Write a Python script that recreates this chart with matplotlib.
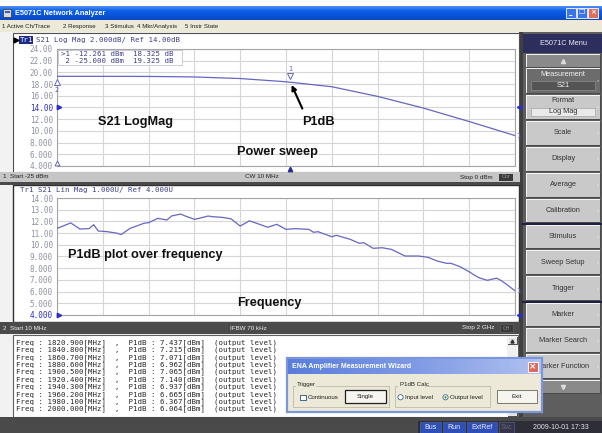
import numpy as np
import matplotlib.pyplot as plt
from matplotlib.patches import Rectangle, Circle
from matplotlib.colors import LinearSegmentedColormap
from matplotlib import transforms

W, H = 602, 433

# --- Channel 1: power sweep at CW 10 MHz, S21 Log Mag ---
pin_dbm = [-25.0, -22.5, -20.0, -17.5, -15.0, -12.5, -10.0, -7.5, -5.0, -2.5, 0.0]
gain_db = [19.33, 19.33, 19.31, 19.22, 18.95, 18.40, 17.55, 15.90, 13.90, 11.60, 9.20]

# marker readout
mk_num = [1, 2]
mk_pow = [-12.261, -25.000]
mk_val = [18.325, 19.325]

# --- Channel 2: P1dB (output level) over frequency ---
freq_mhz = [10.0, 69.7, 109.5, 149.3, 169.2, 189.1, 228.9, 268.7, 288.6, 328.4,
            348.3, 388.1, 408.0, 447.8, 487.6, 507.5, 547.3, 567.2, 607.0, 626.9,
            666.7, 686.6, 726.4, 766.2, 806.0, 845.8, 885.6, 925.4, 965.2, 1005.0,
            1044.8, 1104.5, 1124.4, 1144.3, 1204.0, 1223.9, 1283.6, 1323.4, 1343.3, 1383.1,
            1422.9, 1462.7, 1522.4, 1582.1, 1621.9, 1661.7, 1701.5, 1721.4, 1761.2, 1801.0,
            1820.9, 1840.8, 1860.7, 1880.6, 1900.5, 1920.4, 1940.3, 1960.2, 1980.1, 2000.0]
p1db_dbm = [11.40, 11.87, 11.35, 11.38, 11.72, 11.18, 11.12, 11.00, 10.88, 11.41,
            11.55, 11.84, 11.89, 12.26, 12.12, 12.46, 12.63, 12.46, 12.18, 12.26,
            12.46, 12.40, 12.35, 12.22, 11.60, 12.05, 11.78, 11.50, 11.75, 11.32,
            11.38, 11.32, 11.07, 11.12, 10.69, 10.81, 10.47, 10.13, 10.18, 9.70,
            9.75, 9.61, 9.04, 9.04, 8.93, 8.62, 8.42, 8.42, 8.13, 7.70,
            7.437, 7.215, 7.071, 6.962, 7.065, 7.140, 6.937, 6.665, 6.367, 6.064]

ch1_yticks = [24, 22, 20, 18, 16, 14, 12, 10, 8, 6, 4]
ch2_yticks = [14, 13, 12, 11, 10, 9, 8, 7, 6, 5, 4]
ch1_ref = 14.0
ch2_ref = 4.0

menu_items = ['1 Active Ch/Trace', '2 Response', '3 Stimulus', '4 Mkr/Analysis', '5 Instr State']
menu_x = [2, 63, 105, 137, 185]

softkeys = ['Measurement', 'Format', 'Scale', 'Display', 'Average', 'Calibration',
            'Stimulus', 'Sweep Setup', 'Trigger', 'Marker', 'Marker Search', 'Marker Function']
softkey_sub = ['S21', 'Log Mag', '', '', '', '', '', '', '', '', '', '']
key_rows = [(68, 93), (95, 119), (121, 145), (147, 171), (173, 197), (199, 222),
            (225, 248), (250, 274), (276, 300), (303, 326), (328, 352), (354, 378)]

status_items = ['Bus', 'Run', 'ExtRef', 'Svc']
status_x = [(420, 441), (443, 465), (467, 497), (499, 514)]

TRACE = '#6466c4'
GRID = '#d6d6d6'
TICK = '#8d91a3'
REF = '#2b2fc4'
SANS = 'Liberation Sans'
MONO = 'DejaVu Sans Mono'

fig = plt.figure(figsize=(W / 100, H / 100), dpi=100)


def px_axes(x0, y0, x1, y1):
    return fig.add_axes([x0 / W, 1 - y1 / H, (x1 - x0) / W, (y1 - y0) / H])


def pixel_space(ax):
    ax.set_xlim(0, W)
    ax.set_ylim(H, 0)
    ax.set_autoscale_on(False)
    ax.axis('off')


def rect(ax, x0, y0, x1, y1, fc, ec='none', lw=0.7, z=1):
    ax.add_patch(Rectangle((x0, y0), x1 - x0, y1 - y0, facecolor=fc,
                           edgecolor=ec, linewidth=lw, zorder=z))


def bevel(ax, x0, y0, x1, y1, fc, light='#f6f6f6', dark='#4a4a4a', z=1):
    rect(ax, x0, y0, x1, y1, fc, z=z)
    ax.plot([x0, x0, x1], [y1, y0, y0], color=light, lw=0.7, zorder=z + 0.1)
    ax.plot([x0, x1, x1], [y1, y1, y0], color=dark, lw=0.7, zorder=z + 0.1)


def txt(ax, x, y, s, size=5.0, color='black', ha='left', va='center', family=SANS, z=3, **kw):
    ax.text(x, y, s, fontsize=size, color=color, ha=ha, va=va, family=family, zorder=z, **kw)


def fmt(v):
    return f'{v:.2f}' if v >= 10 else f'{v:.3f}'


# ---------------- background canvas ----------------
bg = px_axes(0, 0, W, H)
pixel_space(bg)
rect(bg, 0, 0, W, H, 'white', z=0)

# title bar
xp = LinearSegmentedColormap.from_list('xp', ['#4d8ff4', '#0b5ee6', '#0754d8', '#0a48c0'])
bg.imshow(np.linspace(0, 1, 16)[:, None], extent=(0, W, 20, 6), cmap=xp, aspect='auto', zorder=1)
rect(bg, 3, 9, 11, 17, '#d8d8d8', ec='#303030', lw=0.5, z=2)
rect(bg, 4.5, 10.5, 9.5, 13, '#3060c0', z=2.1)
txt(bg, 15, 13.2, 'E5071C Network Analyzer', size=5.3, color='white', weight='bold')
for i, (x0, fc, sym) in enumerate([(566, '#3a74ea', '_'), (577, '#3a74ea', '❐'), (588, '#dc7060', '×')]):
    rect(bg, x0, 8, x0 + 10, 18, fc, ec='white', lw=0.6, z=2)
    txt(bg, x0 + 5, 12.5, sym, size=5, color='white', ha='center', family='DejaVu Sans', weight='bold')

# menu bar
rect(bg, 0, 20, W, 32, '#ece9d8', z=1)
for s, x in zip(menu_items, menu_x):
    txt(bg, x, 26.5, s, size=4.4, color='#202020')

# left panel
rect(bg, 0, 32, 520, 421, '#f2f2f2', z=1)
rect(bg, 519, 32, 523, 421, '#404040', z=1)

# channel windows
rect(bg, 13, 33, 519, 172, 'white', ec='#505050', lw=0.8, z=1.2)
rect(bg, 13, 185, 519, 322, 'white', ec='#303030', lw=1.0, z=1.2)

# channel 1 header
bg.plot([15.5], [40], marker='>', ms=3.5, color='black', zorder=3)
rect(bg, 19, 36, 33, 44, '#1c2a8a', z=2)
txt(bg, 20, 40, 'Tr1', size=5.3, color='white', family=MONO)
txt(bg, 36, 40, 'S21 Log Mag 2.000dB/ Ref 14.00dB', size=5.3, color='#3b3f8c', family=MONO)

# channel 1 status bar
rect(bg, 0, 172, 520, 182, '#c6c6c6', z=1.5)
rect(bg, 0, 182, 520, 185, '#4a4a4a', z=1.5)
txt(bg, 3, 177, '1  Start -25 dBm', size=4.5, color='#202020')
txt(bg, 245, 177, 'CW 10 MHz', size=4.5, color='#202020')
txt(bg, 460, 177, 'Stop 0 dBm', size=4.5, color='#202020')
rect(bg, 499, 173.5, 513, 180.5, '#3a3a3a', z=2)
txt(bg, 506, 177, 'Cor', size=3.8, color='#9a9a9a', ha='center')

# channel 2 header
txt(bg, 20, 190, 'Tr1 S21 Lin Mag 1.000U/ Ref 4.000U', size=5.3, color='#3b3f8c', family=MONO)

# channel 2 status bar
rect(bg, 0, 322, 520, 334, '#4b4b4b', z=1.5)
txt(bg, 3, 328, '2  Start 10 MHz', size=4.5, color='#f0f0f0')
txt(bg, 230, 328, 'IFBW 70 kHz', size=4.5, color='#f0f0f0')
txt(bg, 462, 328, 'Stop 2 GHz', size=4.5, color='#f0f0f0')
rect(bg, 500, 324, 513, 332, '#3a3a3a', ec='#666666', lw=0.4, z=2)
txt(bg, 506.5, 328, 'Off', size=3.8, color='#8a8a8a', ha='center')

# result text box
rect(bg, 13, 335, 518, 417, 'white', ec='#606060', lw=0.8, z=1.5)
rect(bg, 507, 336, 517, 416, '#f0f0f0', z=1.6)
bevel(bg, 507.5, 336.5, 516.5, 344, '#e4e4e4', z=1.7)
bg.plot([512], [340.5], marker='^', ms=2.2, color='#303030', zorder=2)
bevel(bg, 507.5, 408.5, 516.5, 416, '#e4e4e4', z=1.7)
for i, (f, p) in enumerate(zip(freq_mhz[-10:], p1db_dbm[-10:])):
    line = f'Freq : {f:8.3f}[MHz]  ,  P1dB : {p:.3f}[dBm]  (output level)'
    txt(bg, 16, 342.5 + i * 7.4, line, size=5.3, color='#262626', family=MONO, z=2)

# bottom strip and status bar
rect(bg, 0, 417, W, H, '#4a4a4a', z=1.5)
rect(bg, 418, 421, W, H, '#2e2e38', z=1.6)
for s, (x0, x1) in zip(status_items, status_x):
    dim = s == 'Svc'
    rect(bg, x0, 422, x1, H, '#34344a' if dim else '#2f4fb8', ec='#5a6aa0', lw=0.4, z=1.7)
    txt(bg, (x0 + x1) / 2, 427.5, s, size=5, color='#6a6a7a' if dim else '#e8ecff', ha='center', z=2)
txt(bg, 561, 427.5, '2009-10-01 17:33', size=5, color='#e6e6e6', ha='center', z=2)

# softkey panel
rect(bg, 523, 32, W, 421, '#5e5e5e', z=1)
rect(bg, 523, 34, W, 53, '#2c2e5e', z=1.2)
txt(bg, 563, 43.5, 'E5071C Menu', size=5.3, color='#e8e8f4', ha='center')
bevel(bg, 526, 54, 600, 67, '#8a8a8a', z=1.3)
bg.plot([563], [60.5], marker='^', ms=3, color='#dcdcdc', zorder=2)
for i, (name, sub, (y0, y1)) in enumerate(zip(softkeys, softkey_sub, key_rows)):
    selected = i == 0
    bevel(bg, 526, y0, 600, y1, '#6c6c6c' if selected else '#c9c9c9', z=1.3)
    col = '#f2f2f2' if selected else '#333333'
    if sub:
        txt(bg, 563, y0 + 6, name, size=5.3, color=col, ha='center')
        rect(bg, 531, y0 + 12.5, 595, y1 - 3, '#545454' if selected else '#e9e9e9',
             ec='#9a9a9a', lw=0.4, z=1.5)
        txt(bg, 563, (y0 + 12.5 + y1 - 3) / 2, sub, size=5.3, color=col, ha='center')
    else:
        txt(bg, 563, (y0 + y1) / 2, name, size=5.3, color=col, ha='center')
    txt(bg, 598, (y0 + y1) / 2, '›', size=4.5, color='#f4f4f4', ha='center')
for ysep in [223.5, 301.5]:
    bg.plot([523, W], [ysep, ysep], color='#1e2040', lw=1.6, zorder=1.4)
bevel(bg, 526, 380, 600, 393, '#8a8a8a', z=1.3)
bg.plot([563], [386.5], marker='v', ms=3, color='#dcdcdc', zorder=2)


# ---------------- measurement traces ----------------
def style_chart(ax, yticks, ref):
    ax.set_yticks(yticks)
    ax.set_yticklabels([fmt(v) for v in yticks])
    ax.tick_params(length=0, pad=2.9, labelsize=5.5, labelcolor=TICK)
    for lab, v in zip(ax.get_yticklabels(), yticks):
        lab.set_fontfamily(MONO)
        if v == ref:
            lab.set_color(REF)
    ax.set_xticklabels([])
    ax.grid(color=GRID, lw=0.8)
    for s in ax.spines.values():
        s.set_color('#a4a4a4')
        s.set_linewidth(0.8)


def edge_marker(ax, xa, yv, m, dx, dy, **kw):
    tr = transforms.offset_copy(transforms.blended_transform_factory(ax.transAxes, ax.transData),
                                fig=fig, x=dx, y=dy, units='points')
    ax.plot([xa], [yv], marker=m, transform=tr, clip_on=False, linestyle='none', zorder=5, **kw)


ax1 = px_axes(57, 49, 515, 166)
ax1.plot(pin_dbm, gain_db, color=TRACE, lw=0.9, zorder=3)
ax1.set_xlim(-25, 0)
ax1.set_ylim(4, 24)
ax1.set_xticks(np.linspace(-25, 0, 11))
style_chart(ax1, ch1_yticks, ch1_ref)
edge_marker(ax1, 0, ch1_ref, '>', 1.6, 0, ms=3.2, color=REF)
edge_marker(ax1, 1, ch1_ref, '<', 2.8, 0, ms=3.2, color=REF)
ax1.annotate('1', xy=(pin_dbm[-1], gain_db[-1]), xytext=(1.2, 0), textcoords='offset points',
             va='center', fontsize=5, color=TRACE, annotation_clip=False)

# marker readout
ax1.add_patch(Rectangle((0.003, 0.865), 0.27, 0.128, transform=ax1.transAxes, facecolor='white',
                        edgecolor='#b8b8c8', lw=0.5, zorder=4))
for i, (n, p, v) in enumerate(zip(mk_num, mk_pow, mk_val)):
    lead = '>' if i == 0 else ' '
    ax1.text(0.008, 0.958 - i * 0.064, f'{lead}{n} {p:.3f} dBm  {v:.3f} dB', transform=ax1.transAxes,
             fontsize=5.3, family=MONO, color='#3b3f8c', va='center', zorder=5)

# marker symbols on the trace
up = transforms.offset_copy(ax1.transData, fig=fig, y=4.2, units='points')
ax1.plot([mk_pow[0]], [mk_val[0]], marker='v', ms=4, mfc='white', mec=TRACE, mew=0.7,
         transform=up, zorder=5)
ax1.annotate(str(mk_num[0]), xy=(mk_pow[0], mk_val[0]), xytext=(0, 9.5), textcoords='offset points',
             ha='center', va='center', fontsize=4.8, color=TRACE, zorder=5)
dn = transforms.offset_copy(ax1.transData, fig=fig, y=-4.2, units='points')
ax1.plot([mk_pow[1]], [mk_val[1]], marker='^', ms=4, mfc='white', mec=TRACE, mew=0.7,
         transform=dn, clip_on=False, zorder=5)
ax1.annotate(str(mk_num[1]), xy=(mk_pow[1], mk_val[1]), xytext=(0, -9.5), textcoords='offset points',
             ha='center', va='center', fontsize=4.8, color=TRACE, annotation_clip=False, zorder=5)

# stimulus markers on the bottom edge
bot_in = transforms.offset_copy(ax1.transData, fig=fig, y=2.2, units='points')
ax1.plot([mk_pow[1]], [4], marker='^', ms=3.5, mfc='white', mec=TRACE, mew=0.7, transform=bot_in,
         clip_on=False, zorder=5)
bot_out = transforms.offset_copy(ax1.transData, fig=fig, y=-2.4, units='points')
ax1.plot([mk_pow[0]], [4], marker='^', ms=3.2, color='#2a2e9a', transform=bot_out,
         clip_on=False, zorder=5)

# arrow pointing to P1dB
ax1.annotate('', xy=(mk_pow[0], mk_val[0]), xytext=(8.6, -19), textcoords='offset points',
             arrowprops=dict(arrowstyle='-|>', color='black', lw=1.5, mutation_scale=7,
                             shrinkA=0, shrinkB=2.2), zorder=6)

ax2 = px_axes(57, 198, 515, 315)
ax2.plot(freq_mhz, p1db_dbm, color=TRACE, lw=0.9, zorder=3)
ax2.set_xlim(10, 2000)
ax2.set_ylim(4, 14)
ax2.set_xticks(np.linspace(10, 2000, 11))
style_chart(ax2, ch2_yticks, ch2_ref)
edge_marker(ax2, 0, ch2_ref, '>', 1.6, 0, ms=3.2, color=REF)
edge_marker(ax2, 1, ch2_ref, '<', 2.8, 0, ms=3.2, color=REF)
ax2.annotate('1', xy=(freq_mhz[-1], p1db_dbm[-1]), xytext=(1.2, 0), textcoords='offset points',
             va='center', fontsize=5, color=TRACE, annotation_clip=False)

# ---------------- overlay: labels and wizard dialog ----------------
ov = px_axes(0, 0, W, H)
pixel_space(ov)
ov.patch.set_alpha(0)

big = dict(size=9.2, color='#111111', weight='bold', z=6)
txt(ov, 98, 122, 'S21 LogMag', **big)
txt(ov, 302, 122, 'P1dB', **big)
txt(ov, 237, 152, 'Power sweep', **big)
txt(ov, 68, 255, 'P1dB plot over frequency', **big)
txt(ov, 237, 303, 'Frequency', **big)

# ENA Amplifier Measurement Wizard
rect(ov, 287, 358, 542, 412, '#ece9d8', ec='#7b96dc', lw=1.6, z=7)
dlg = LinearSegmentedColormap.from_list('dlg', ['#5a7edc', '#7f9ae4', '#b0c0f0'])
ov.imshow(np.linspace(0, 1, 64)[None, :], extent=(288, 541, 374, 359), cmap=dlg, aspect='auto', zorder=7.2)
txt(ov, 292, 366.5, 'ENA Amplifier Measurement Wizard', size=5, color='white', weight='bold', z=8)
rect(ov, 528, 362, 538, 372, '#dd6a5c', ec='white', lw=0.7, z=8)
txt(ov, 533, 367, '×', size=6.5, color='white', ha='center', family='DejaVu Sans', weight='bold', z=9)

rect(ov, 293, 386, 389, 407, 'none', ec='#bdbaa8', lw=0.6, z=8)
rect(ov, 296, 381.5, 316, 388, '#ece9d8', z=8.1)
txt(ov, 297, 384.8, 'Trigger', size=4.4, color='#202020', z=9)
rect(ov, 300, 394.5, 305.5, 400, 'white', ec='#1c5180', lw=0.6, z=8.5)
txt(ov, 308, 397.5, 'Continuous', size=4.4, color='#202020', z=9)
rect(ov, 345, 389.5, 386, 403, '#f6f5ef', ec='#202020', lw=0.9, z=8.5)
txt(ov, 365.5, 396.5, 'Single', size=4.4, color='#202020', ha='center', z=9)

rect(ov, 395, 386, 490, 407, 'none', ec='#bdbaa8', lw=0.6, z=8)
rect(ov, 398, 381.5, 425, 388, '#ece9d8', z=8.1)
txt(ov, 400, 384.8, 'P1dB Calc', size=4.4, color='#202020', z=9)
ov.add_patch(Circle((400.5, 397.3), 2.6, facecolor='white', edgecolor='#1c5180', lw=0.5, zorder=8.5))
txt(ov, 405, 397.5, 'Input level', size=4.4, color='#202020', z=9)
ov.add_patch(Circle((445.5, 397.3), 2.6, facecolor='white', edgecolor='#1c5180', lw=0.5, zorder=8.5))
ov.add_patch(Circle((445.5, 397.3), 1.1, facecolor='#2a9a2a', zorder=8.6))
txt(ov, 450, 397.5, 'Output level', size=4.4, color='#202020', z=9)

rect(ov, 497, 390, 537, 403, '#f6f5ef', ec='#7a7a70', lw=0.7, z=8.5)
txt(ov, 517, 396.5, 'Exit', size=4.4, color='#202020', ha='center', z=9)

fig.savefig('out.png', dpi=100)
